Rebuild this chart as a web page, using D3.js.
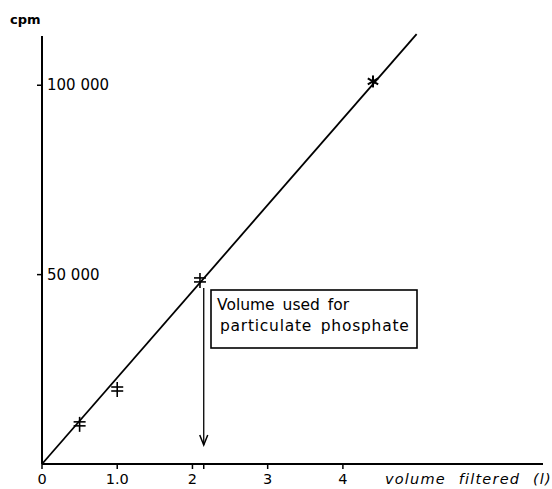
<!DOCTYPE html>
<html><head><meta charset="utf-8">
<script src="https://cdn.jsdelivr.net/npm/d3@7"></script>
<style>
html,body{margin:0;padding:0;background:#fff;}
svg{display:block;}
text{font-family:"DejaVu Sans",Lato,sans-serif;fill:#000;}
</style></head>
<body>
<svg id="c" width="552" height="489"></svg>
<script>
// ---- data ----
const volumes = [0.5, 1.0, 2.1, 4.4];            // volume filtered (l)
const cpm = [10600, 19800, 48600, 101000];       // counts per minute
const markerTypes = ["dbl", "dbl", "dbl", "star"];
const fitLine = [[0, 0], [4.98, 113500]];        // drawn regression line
const xTicks = [0, 1, 2, 3, 4];
const xTickLabels = ["0", "1.0", "2", "3", "4"];
const yTicks = [50000, 100000];
const yTickLabels = ["50 000", "100 000"];
const usedVolume = 2.15;
const arrowRange = [46500, 5000];
const xTitle = "volume filtered (l)";
const yTitle = "cpm";
const noteLines = ["Volume used for", "particulate phosphate"];

const svg = d3.select("#c");
const x = d3.scaleLinear().domain([0, 6.66]).range([42, 543]);
const y = d3.scaleLinear().domain([0, 113000]).range([464, 36]);

// axes lines
svg.append("line").attr("x1", x(0)).attr("x2", x(6.66)).attr("y1", y(0)).attr("y2", y(0))
  .attr("stroke", "#000").attr("stroke-width", 2);
svg.append("line").attr("x1", x(0)).attr("x2", x(0)).attr("y1", y(0)).attr("y2", y(113000))
  .attr("stroke", "#000").attr("stroke-width", 2);

// x ticks
const xt = xTicks.concat([usedVolume]);
svg.selectAll(".xt").data(xt).enter().append("line")
  .attr("x1", d => x(d)).attr("x2", d => x(d)).attr("y1", y(0)).attr("y2", y(0) + 5)
  .attr("stroke", "#000").attr("stroke-width", 1.5);
svg.selectAll(".xl").data(xTicks).enter().append("text")
  .attr("x", d => x(d)).attr("y", 484).attr("text-anchor", "middle")
  .attr("font-size", 14.5).text((d, i) => xTickLabels[i]);

// y ticks
svg.selectAll(".yt").data(yTicks).enter().append("line")
  .attr("x1", x(0) - 5).attr("x2", x(0)).attr("y1", d => y(d)).attr("y2", d => y(d))
  .attr("stroke", "#000").attr("stroke-width", 1.5);
svg.selectAll(".yl").data(yTicks).enter().append("text")
  .attr("x", x(0) + 5).attr("y", d => y(d) + 5).attr("font-size", 15)
  .text((d, i) => yTickLabels[i]);

// titles
svg.append("text").attr("x", 10).attr("y", 24).attr("font-size", 13).attr("font-weight", "bold")
  .text(yTitle);
svg.append("text").attr("x", 385).attr("y", 484).attr("font-size", 14.5).attr("font-style", "italic")
  .attr("letter-spacing", 1.2).attr("word-spacing", 7).text(xTitle);

// fit line
svg.append("path").datum(fitLine)
  .attr("d", d3.line().x(d => x(d[0])).y(d => y(d[1])))
  .attr("fill", "none").attr("stroke", "#000").attr("stroke-width", 1.8);

// markers
const pts = volumes.map((v, i) => ({v, c: cpm[i], t: markerTypes[i]}));
const g = svg.selectAll(".pt").data(pts).enter().append("g")
  .attr("transform", d => `translate(${x(d.v)},${y(d.c)})`);
g.filter(d => d.t === "dbl").each(function () {
  const s = d3.select(this);
  s.append("line").attr("x1", 0).attr("x2", 0).attr("y1", -7).attr("y2", 8).attr("stroke", "#000").attr("stroke-width", 1.6);
  s.append("line").attr("x1", -6).attr("x2", 6).attr("y1", -2).attr("y2", -2).attr("stroke", "#000").attr("stroke-width", 1.6);
  s.append("line").attr("x1", -6).attr("x2", 6).attr("y1", 2).attr("y2", 2).attr("stroke", "#000").attr("stroke-width", 1.6);
});
g.filter(d => d.t === "star").each(function () {
  const s = d3.select(this);
  [0, 60, 120].forEach(a => {
    const r = a * Math.PI / 180;
    s.append("line").attr("x1", -6 * Math.sin(r)).attr("y1", -6 * Math.cos(r))
      .attr("x2", 6 * Math.sin(r)).attr("y2", 6 * Math.cos(r))
      .attr("stroke", "#000").attr("stroke-width", 2);
  });
});

// arrow
const ax = x(usedVolume);
svg.append("line").attr("x1", ax).attr("x2", ax).attr("y1", y(arrowRange[0])).attr("y2", y(arrowRange[1]))
  .attr("stroke", "#000").attr("stroke-width", 1.3);
svg.append("path")
  .attr("d", `M${ax - 4},${y(arrowRange[1]) - 10} L${ax},${y(arrowRange[1])} L${ax + 4},${y(arrowRange[1]) - 10}`)
  .attr("fill", "none").attr("stroke", "#000").attr("stroke-width", 1.5);

// note box
svg.append("rect").attr("x", 211).attr("y", 290).attr("width", 206).attr("height", 58)
  .attr("fill", "none").attr("stroke", "#000").attr("stroke-width", 1.6);
svg.append("text").attr("x", 217).attr("y", 310).attr("font-size", 15.5)
  .attr("word-spacing", 3).text(noteLines[0]);
svg.append("text").attr("x", 220).attr("y", 331).attr("font-size", 15.5)
  .attr("letter-spacing", 0.75).attr("word-spacing", 3).text(noteLines[1]);
</script>
</body></html>
